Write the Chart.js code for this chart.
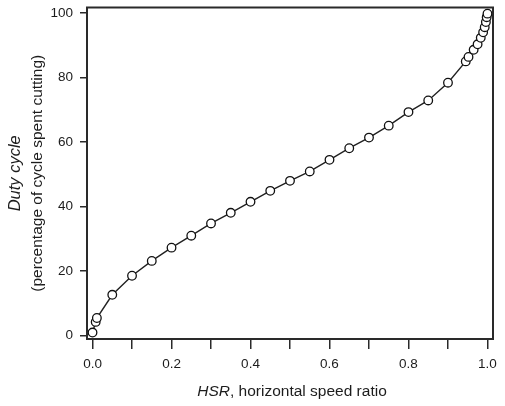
<!DOCTYPE html>
<html>
<head>
<meta charset="utf-8">
<script src="https://cdn.jsdelivr.net/npm/chart.js@4"></script>
<style>
  html, body { margin: 0; padding: 0; background: #fff; }
  canvas { display: block; }
</style>
</head>
<body>
<canvas id="dutyChart" width="505" height="406"></canvas>
<script>
// HSR (horizontal speed ratio) and duty cycle values
const hsrValues = [0, 0.008, 0.011, 0.05, 0.10, 0.15, 0.20, 0.25, 0.30, 0.35, 0.40,
  0.45, 0.50, 0.55, 0.60, 0.65, 0.70, 0.75, 0.80, 0.85, 0.90,
  0.945, 0.952, 0.965, 0.975, 0.983, 0.989, 0.993, 0.996, 0.998, 1.0];
const dutyValues = [1.0, 4.3, 5.5, 12.7, 18.6, 23.2, 27.3, 31.0, 34.8, 38.1, 41.5,
  44.9, 48.0, 50.9, 54.5, 58.1, 61.4, 65.1, 69.3, 72.9, 78.4,
  85.0, 86.4, 88.6, 90.3, 92.3, 94.0, 95.6, 97.2, 98.7, 99.8];

const xTickLabels = ['0.0', '0.2', '0.4', '0.6', '0.8', '1.0'];
const yTickLabels = ['0', '20', '40', '60', '80', '100'];

const FONT = "'Liberation Sans', Arial, sans-serif";
const INK = '#1c1c1c';

const points = hsrValues.map((x, i) => ({ x: x, y: dutyValues[i] }));

// box round the plot area
const framePlugin = {
  id: 'frame',
  afterDraw(chart) {
    const a = chart.chartArea;
    const ctx = chart.ctx;
    ctx.save();
    ctx.strokeStyle = '#2a2a2a';
    ctx.lineWidth = 2;
    ctx.strokeRect(a.left, a.top, a.right - a.left, a.bottom - a.top);
    ctx.restore();
  }
};

// x axis title has an italic "HSR" followed by plain text
const xTitlePlugin = {
  id: 'xTitle',
  afterDraw(chart) {
    const a = chart.chartArea;
    const ctx = chart.ctx;
    const italic = 'italic 15.5px ' + FONT;
    const plain = '15.5px ' + FONT;
    const part1 = 'HSR';
    const part2 = ', horizontal speed ratio';
    ctx.save();
    ctx.fillStyle = INK;
    ctx.textBaseline = 'middle';
    ctx.textAlign = 'left';
    ctx.font = italic;
    const w1 = ctx.measureText(part1).width;
    ctx.font = plain;
    const w2 = ctx.measureText(part2).width;
    const x0 = (a.left + a.right) / 2 + 2 - (w1 + w2) / 2;
    const y = 392;
    ctx.font = italic;
    ctx.fillText(part1, x0, y);
    ctx.font = plain;
    ctx.fillText(part2, x0 + w1, y);
    ctx.restore();
  }
};

new Chart(document.getElementById('dutyChart'), {
  type: 'scatter',
  data: {
    datasets: [{
      data: points,
      showLine: true,
      borderColor: '#222',
      borderWidth: 1.4,
      pointRadius: 4.3,
      pointBackgroundColor: '#fff',
      pointBorderColor: '#111',
      pointBorderWidth: 1.3,
      tension: 0
    }]
  },
  options: {
    responsive: false,
    animation: false,
    devicePixelRatio: 1,
    layout: { padding: { top: 7.5, right: 12, left: 0, bottom: 0 } },
    plugins: {
      legend: { display: false },
      tooltip: { enabled: false }
    },
    scales: {
      x: {
        type: 'linear',
        position: 'bottom',
        min: -0.014,
        max: 1.014,
        border: { display: false },
        grid: { drawOnChartArea: false, tickLength: 10, color: '#2a2a2a', lineWidth: 1.5 },
        ticks: {
          stepSize: 0.1,
          includeBounds: false,
          autoSkip: false,
          maxRotation: 0,
          padding: 7,
          color: INK,
          font: { family: FONT, size: 13.5 },
          callback: function(v) {
            const k = Math.round(v * 10);
            return k % 2 === 0 ? xTickLabels[k / 2] : '';
          }
        },
        title: { display: false },
        afterFit: function(s) {
          s.height = 67;
          s.paddingLeft = 0;
          s.paddingRight = 0;
        }
      },
      y: {
        type: 'linear',
        position: 'left',
        weight: 0,
        min: -1,
        max: 101.7,
        border: { display: false },
        grid: { drawOnChartArea: false, tickLength: 7, color: '#2a2a2a', lineWidth: 1.5 },
        ticks: {
          stepSize: 20,
          includeBounds: false,
          padding: 7,
          color: INK,
          font: { family: FONT, size: 13.5 },
          callback: function(v) {
            return yTickLabels[Math.round(v / 20)];
          }
        },
        title: {
          display: true,
          text: '(percentage of cycle spent cutting)',
          color: INK,
          font: { family: FONT, size: 15.5 },
          padding: { top: 4, bottom: 0 }
        },
        afterFit: function(s) {
          s.width = 63;
          s.paddingTop = 0;
          s.paddingBottom = 0;
        }
      },
      yTitle: {
        type: 'linear',
        position: 'left',
        weight: 1,
        min: -1,
        max: 101.7,
        border: { display: false },
        grid: { display: false },
        ticks: { display: false },
        title: {
          display: true,
          text: 'Duty cycle',
          color: INK,
          font: { family: FONT, size: 16.5, style: 'italic' },
          padding: { top: 6, bottom: 0 }
        },
        afterFit: function(s) {
          s.width = 24;
        }
      }
    }
  },
  plugins: [framePlugin, xTitlePlugin]
});
</script>
</body>
</html>
